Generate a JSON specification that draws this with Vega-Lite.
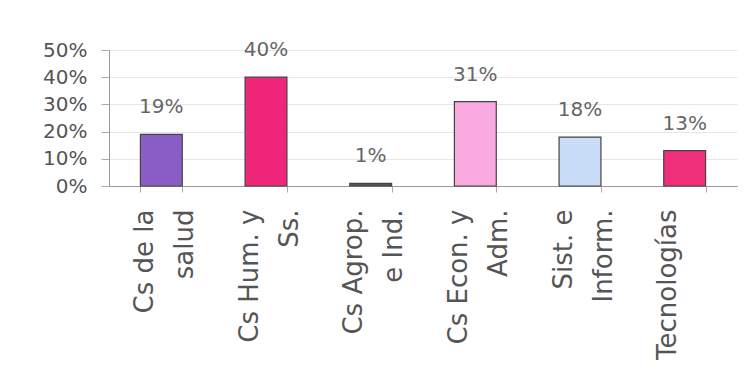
{
  "$schema": "https://vega.github.io/schema/vega-lite/v6.json",
  "autosize": "none",
  "width": 628,
  "height": 136,
  "padding": {"left": 109, "top": 50, "right": 7, "bottom": 195},
  "background": "white",
  "config": {"view": {"stroke": null}, "font": "DejaVu Sans"},
  "data": {
    "values": [
      {"area": "Cs de la|salud", "share": 0.19},
      {"area": "Cs Hum. y|Ss.", "share": 0.40},
      {"area": "Cs Agrop.|e Ind.", "share": 0.01},
      {"area": "Cs Econ. y|Adm.", "share": 0.31},
      {"area": "Sist. e|Inform.", "share": 0.18},
      {"area": "Tecnologías", "share": 0.13}
    ]
  },
  "encoding": {
    "x": {
      "field": "area",
      "type": "nominal",
      "sort": null,
      "scale": {"paddingInner": 0.6, "paddingOuter": 0.3},
      "axis": {
        "title": null,
        "labelExpr": "split(datum.label, '|')",
        "labelAngle": -90,
        "labelAlign": "right",
        "labelBaseline": "middle",
        "labelFontSize": 26,
        "labelLineHeight": 40,
        "labelColor": "#555555",
        "labelPadding": 17,
        "labelOffset": -17,
        "tickBand": "extent",
        "tickSize": 6,
        "tickColor": "#aaaaaa",
        "domainColor": "#999999",
        "labelLimit": 300
      }
    },
    "y": {
      "field": "share",
      "type": "quantitative",
      "scale": {"domain": [0, 0.5]},
      "axis": {
        "title": null,
        "format": ".0%",
        "values": [0, 0.1, 0.2, 0.3, 0.4, 0.5],
        "labelFontSize": 20,
        "labelColor": "#555555",
        "labelPadding": 14,
        "tickSize": 8,
        "tickColor": "#aaaaaa",
        "domainColor": "#999999",
        "gridColor": "#e6e6e6"
      }
    }
  },
  "layer": [
    {
      "mark": {"type": "bar", "stroke": "#444444", "strokeWidth": 1.2},
      "encoding": {
        "color": {
          "field": "area",
          "type": "nominal",
          "legend": null,
          "scale": {
            "domain": ["Cs de la|salud", "Cs Hum. y|Ss.", "Cs Agrop.|e Ind.", "Cs Econ. y|Adm.", "Sist. e|Inform.", "Tecnologías"],
            "range": ["#8a5ec6", "#f0267a", "#555555", "#f9a8e0", "#c9ddf8", "#f0307a"]
          }
        }
      }
    },
    {
      "mark": {"type": "text", "baseline": "alphabetic", "dy": -21, "fontSize": 20, "color": "#666666"},
      "encoding": {
        "text": {"field": "share", "type": "quantitative", "format": ".0%"}
      }
    }
  ]
}
